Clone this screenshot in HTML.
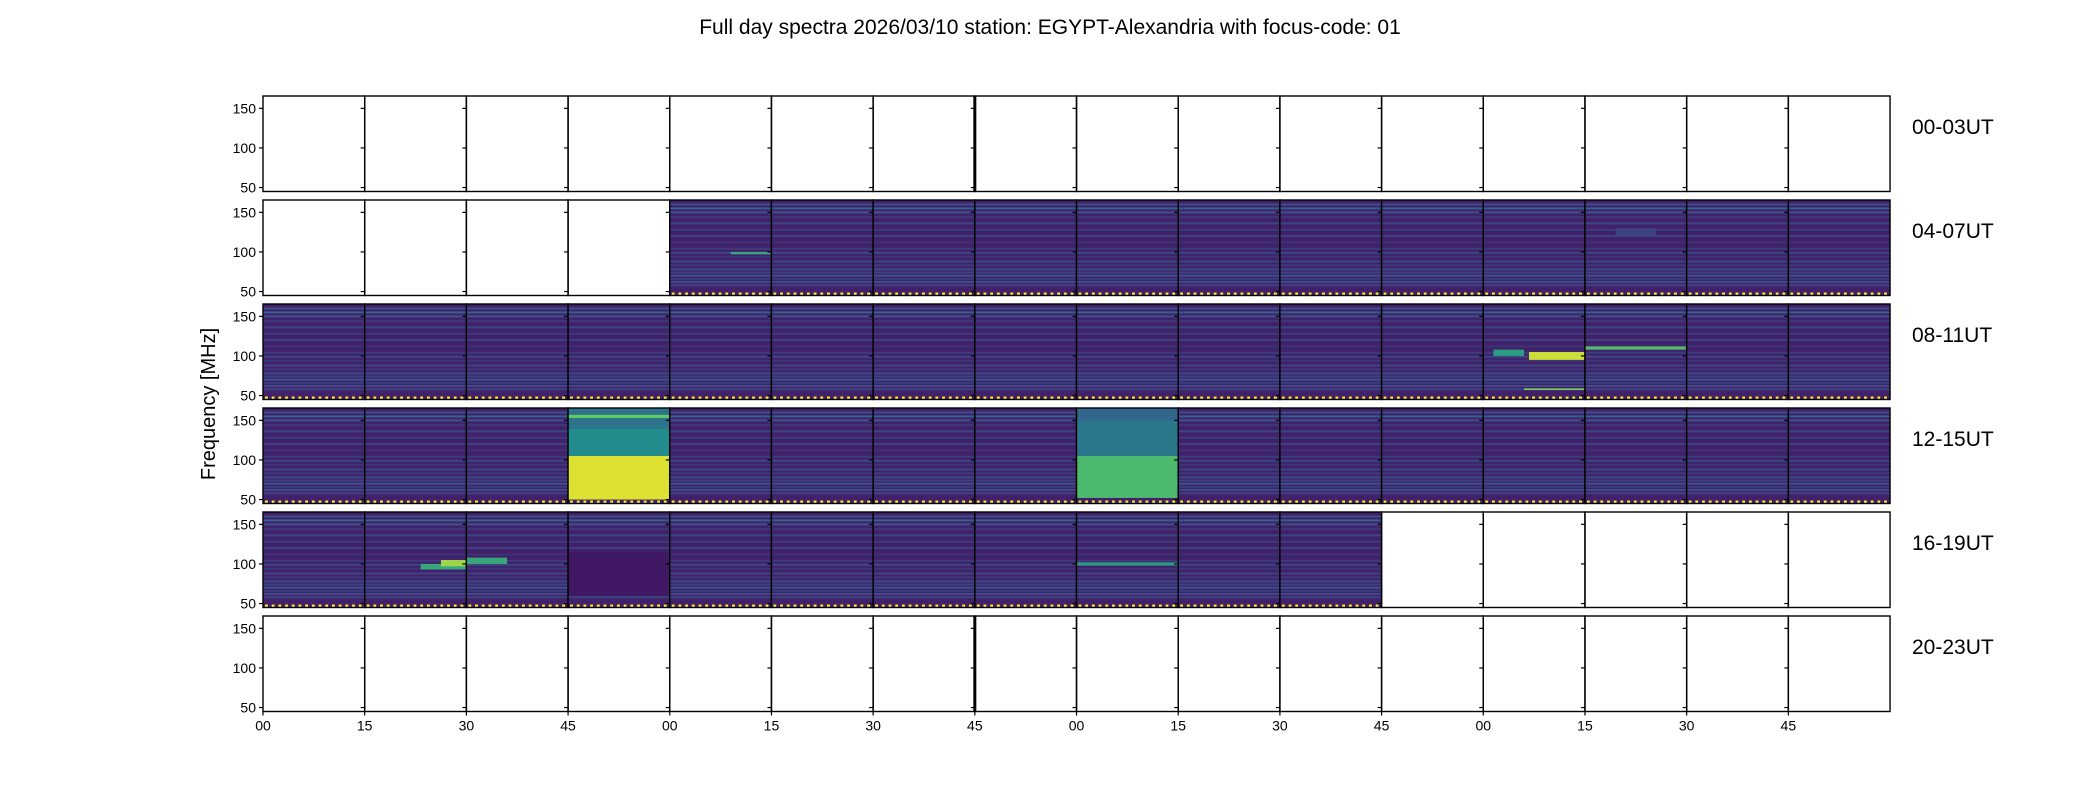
<!DOCTYPE html>
<html><head><meta charset="utf-8"><style>
body{margin:0;background:#fff;}
svg{display:block;font-family:"Liberation Sans","DejaVu Sans",sans-serif;}
</style></head><body>
<svg id="fig" width="2100" height="800" viewBox="0 0 2100 800" xmlns="http://www.w3.org/2000/svg">
<text x="1050" y="34" text-anchor="middle" font-size="21">Full day spectra 2026/03/10 station: EGYPT-Alexandria with focus-code: 01</text>
<text x="0" y="0" transform="translate(215,404) rotate(-90)" text-anchor="middle" font-size="20">Frequency [MHz]</text>
<g id="panels"></g>
</svg>
<script>
// ---- data ----
const rowLabels = ["00-03UT","04-07UT","08-11UT","12-15UT","16-19UT","20-23UT"];
const xTickLabels = ["00","15","30","45","00","15","30","45","00","15","30","45","00","15","30","45"];
const yTicks = [50,100,150];
// panels that contain data per row: [firstCol, lastCol] or null
const dataStart = [null,4,0,0,0,null];
const dataEnd   = [null,15,15,15,10,null];
// common spectral bands: frequency (MHz) and intensity level (0-1)
const bandFreqs  = [58,62,66,70,74,78,83,88,94,99,104,112,120,128,136,144,150,155,160];
const bandLevels = [0.2,0.23,0.18,0.25,0.2,0.23,0.18,0.21,0.16,0.22,0.18,0.15,0.2,0.18,0.22,0.17,0.26,0.3,0.24];
// special features: row, col, fLow, fHigh, tStart, tEnd, level
const featRow   = [3,3,3,3,3,3,2,2,2,2,4,4,4,4,1,1,4,3];
const featCol   = [3,3,3,8,8,8,12,12,13,12,1,1,2,3,4,13,8,3];
const featFLow  = [50,105,140,52,105,150,95,57,108,100,93,97,100,60,97,120,98,153];
const featFHigh = [105,140,165,105,150,165,105,59,112,108,100,105,108,115,100,130,102,157];
const featT0    = [0,0,0,0,0,0,0.45,0.4,0,0.1,0.55,0.75,0,0,0.6,0.3,0,0];
const featT1    = [1,1,1,1,1,1,1,1,1,0.4,1,1,0.4,1,1,0.7,1,1];
const featLevel = [0.95,0.48,0.38,0.68,0.4,0.33,0.92,0.8,0.7,0.55,0.6,0.85,0.6,0.07,0.6,0.2,0.55,0.75];

// ---- layout ----
const X0=263, PW=101.69, NC=16, ROWTOP=96, PITCH=104, PH=95.5;
const FMAX=165.6, FMIN=45, PPM=PH/(FMAX-FMIN);
const colX = c => X0 + c*PW;
const rowY = r => ROWTOP + r*PITCH;
const fy = (r,f) => rowY(r) + (FMAX-f)*PPM;
const stops=[[68,1,84],[59,82,139],[33,145,140],[94,201,98],[253,231,37]];
function viridis(t){t=Math.max(0,Math.min(1,t));const s=t*4,i=Math.min(3,Math.floor(s)),u=s-i;
 const a=stops[i],b=stops[i+1];return `rgb(${a.map((v,k)=>Math.round(v+(b[k]-v)*u)).join(',')})`;}
const NS="http://www.w3.org/2000/svg";
const g=document.getElementById('panels');
function mk(tag,attrs,parent){const e=document.createElementNS(NS,tag);for(const k in attrs)e.setAttribute(k,attrs[k]);(parent||g).appendChild(e);return e;}

for(let r=0;r<6;r++){
 const y0=rowY(r);
 for(let c=0;c<NC;c++){
  const x0=colX(c);
  const hasData = dataStart[r]!==null && c>=dataStart[r] && c<=dataEnd[r];
  if(hasData){
   const bg=mk('rect',{x:x0,y:y0,width:PW,height:PH,fill:viridis(0.1)});
   
   
   for(let b=0;b<bandFreqs.length;b++){
    const ln=mk('rect',{x:x0,y:fy(r,bandFreqs[b])-1,width:PW,height:2,fill:viridis(bandLevels[b])});
    
    
   }
   for(let k=0;k<featRow.length;k++){
    if(featRow[k]!==r||featCol[k]!==c)continue;
    const fr=mk('rect',{x:x0+featT0[k]*PW,y:fy(r,featFHigh[k]),width:(featT1[k]-featT0[k])*PW,height:(featFHigh[k]-featFLow[k])*PPM,fill:viridis(featLevel[k])});
    
    
   }
   const dot=mk('line',{x1:x0+2,x2:x0+PW,y1:fy(r,47),y2:fy(r,47),stroke:'#fde725','stroke-width':2.8,'stroke-dasharray':'2.8 3.9'});
   
   
  }
  const fr=mk('rect',{x:x0,y:y0,width:PW,height:PH,fill:'none',stroke:'#000','stroke-width':1.4});
  
  
  for(const t of yTicks){
   const tk=mk('line',{x1:x0-4,x2:x0,y1:fy(r,t),y2:fy(r,t),stroke:'#000','stroke-width':1.2});
   
   
  }
 }
 if(r===0||r===5){
  const th=mk('line',{x1:colX(7),x2:colX(7),y1:y0,y2:y0+PH,stroke:'#000','stroke-width':3});
  
  
 }
 for(const t of yTicks){
  const tl=mk('text',{x:X0-7,y:fy(r,t)+5,'text-anchor':'end','font-size':14});
  tl.textContent=t;
  
  
 }
 const rl=mk('text',{x:1912,y:y0+38,'font-size':21});
 rl.textContent=rowLabels[r];
 
 
}
const yb=rowY(5)+PH;
for(let c=0;c<xTickLabels.length;c++){
 const tk=mk('line',{x1:colX(c),x2:colX(c),y1:yb,y2:yb+4,stroke:'#000','stroke-width':1.2});
 
 
 const tl=mk('text',{x:colX(c),y:yb+19,'text-anchor':'middle','font-size':14});
 tl.textContent=xTickLabels[c];
 
 
}
</script>
</body></html>
